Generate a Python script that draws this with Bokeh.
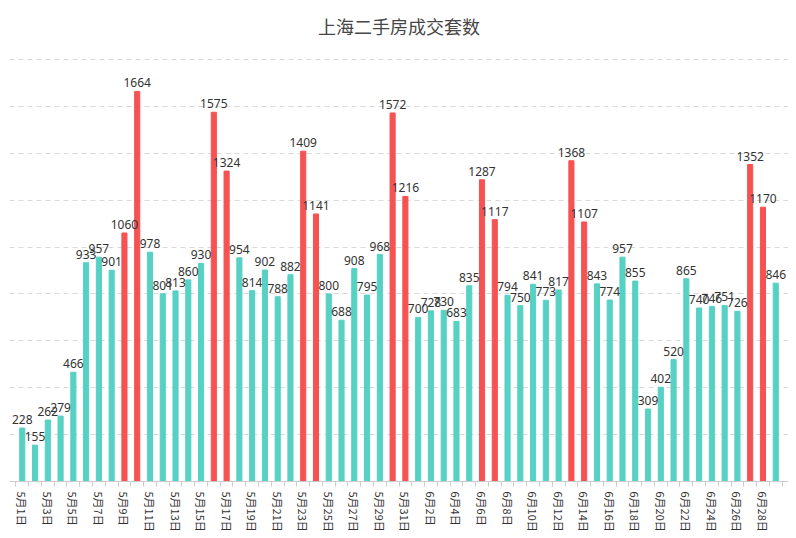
from bokeh.plotting import figure
from bokeh.models import Range1d, FixedTicker, ColumnDataSource, LabelSet, Label
from bokeh.core.properties import value
from bokeh.embed import file_html
from bokeh.resources import INLINE

TITLE = "上海二手房成交套数"

# 日期（5月1日 - 6月29日）
dates = [f"5月{d}日" for d in range(1, 32)] + [f"6月{d}日" for d in range(1, 30)]

# 每日成交套数
counts = [
    228, 155, 262, 279, 466, 933, 957, 901, 1060, 1664,
    978, 801, 813, 860, 930, 1575, 1324, 954, 814, 902,
    788, 882, 1409, 1141, 800, 688, 908, 795, 968, 1572,
    1216,
    700, 728, 730, 683, 835, 1287, 1117, 794, 750, 841,
    773, 817, 1368, 1107, 843, 774, 957, 855, 309, 402,
    520, 865, 740, 746, 751, 726, 1352, 1170, 846,
]

# 周末（红色标出）
highlight = [
    "5月9日", "5月10日", "5月16日", "5月17日", "5月23日", "5月24日",
    "5月30日", "5月31日", "6月6日", "6月7日", "6月13日", "6月14日",
    "6月27日", "6月28日",
]

TEAL = "#56d1c4"
RED = "#f65252"

xs = list(range(len(dates)))
colors = [RED if d in highlight else TEAL for d in dates]
src = ColumnDataSource(dict(x=xs, y=counts, c=colors, lbl=[str(v) for v in counts]))

YMAX = 1800
# 网格区高 422px，标题区 59px 一并放进绘图区，避免标题被裁掉
y_end = YMAX * 481 / 422

p = figure(width=790, height=536, output_backend="svg", toolbar_location=None,
           x_range=Range1d(-1, len(dates)), y_range=Range1d(0, y_end),
           min_border_left=9, min_border_right=2, min_border_top=0, min_border_bottom=55)

p.add_layout(Label(x=(len(dates) - 1) / 2, y=YMAX, y_offset=34, text=TITLE,
                   text_align="center", text_baseline="middle",
                   text_font="Noto Sans CJK SC", text_font_size="18px",
                   text_color="#464646"))

p.vbar(x="x", top="y", width=0.4, color="c", source=src)
labels = LabelSet(x="x", y="y", text="lbl", source=src, text_align="center",
                  text_baseline="bottom", y_offset=4, text_font=value("Noto Sans"),
                  text_font_size=value("12px"), text_color=value("#333333"))
p.add_layout(labels)

p.outline_line_color = None
p.xgrid.grid_line_color = None
p.ygrid.ticker = FixedTicker(ticks=list(range(200, YMAX + 1, 200)))
p.ygrid.grid_line_color = "#d9d9d9"
p.ygrid.grid_line_dash = "5 4"
p.yaxis.visible = False

p.xaxis.ticker = FixedTicker(ticks=xs[::2], minor_ticks=[i - 0.5 for i in range(len(dates) + 1)])
p.xaxis.major_label_overrides = {i: dates[i] for i in xs}
p.xaxis.major_label_orientation = "vertical"
p.xaxis.major_label_text_font = "Noto Sans CJK SC"
p.xaxis.major_label_text_font_size = "11px"
p.xaxis.major_label_text_color = "#333333"
p.xaxis.major_label_standoff = 4
p.xaxis.axis_line_color = "#cccccc"
p.xaxis.major_tick_line_color = None
p.xaxis.minor_tick_line_color = "#cccccc"
p.xaxis.minor_tick_out = 5
p.xaxis.minor_tick_in = 0

open("out.html", "w").write(file_html(p, INLINE))
